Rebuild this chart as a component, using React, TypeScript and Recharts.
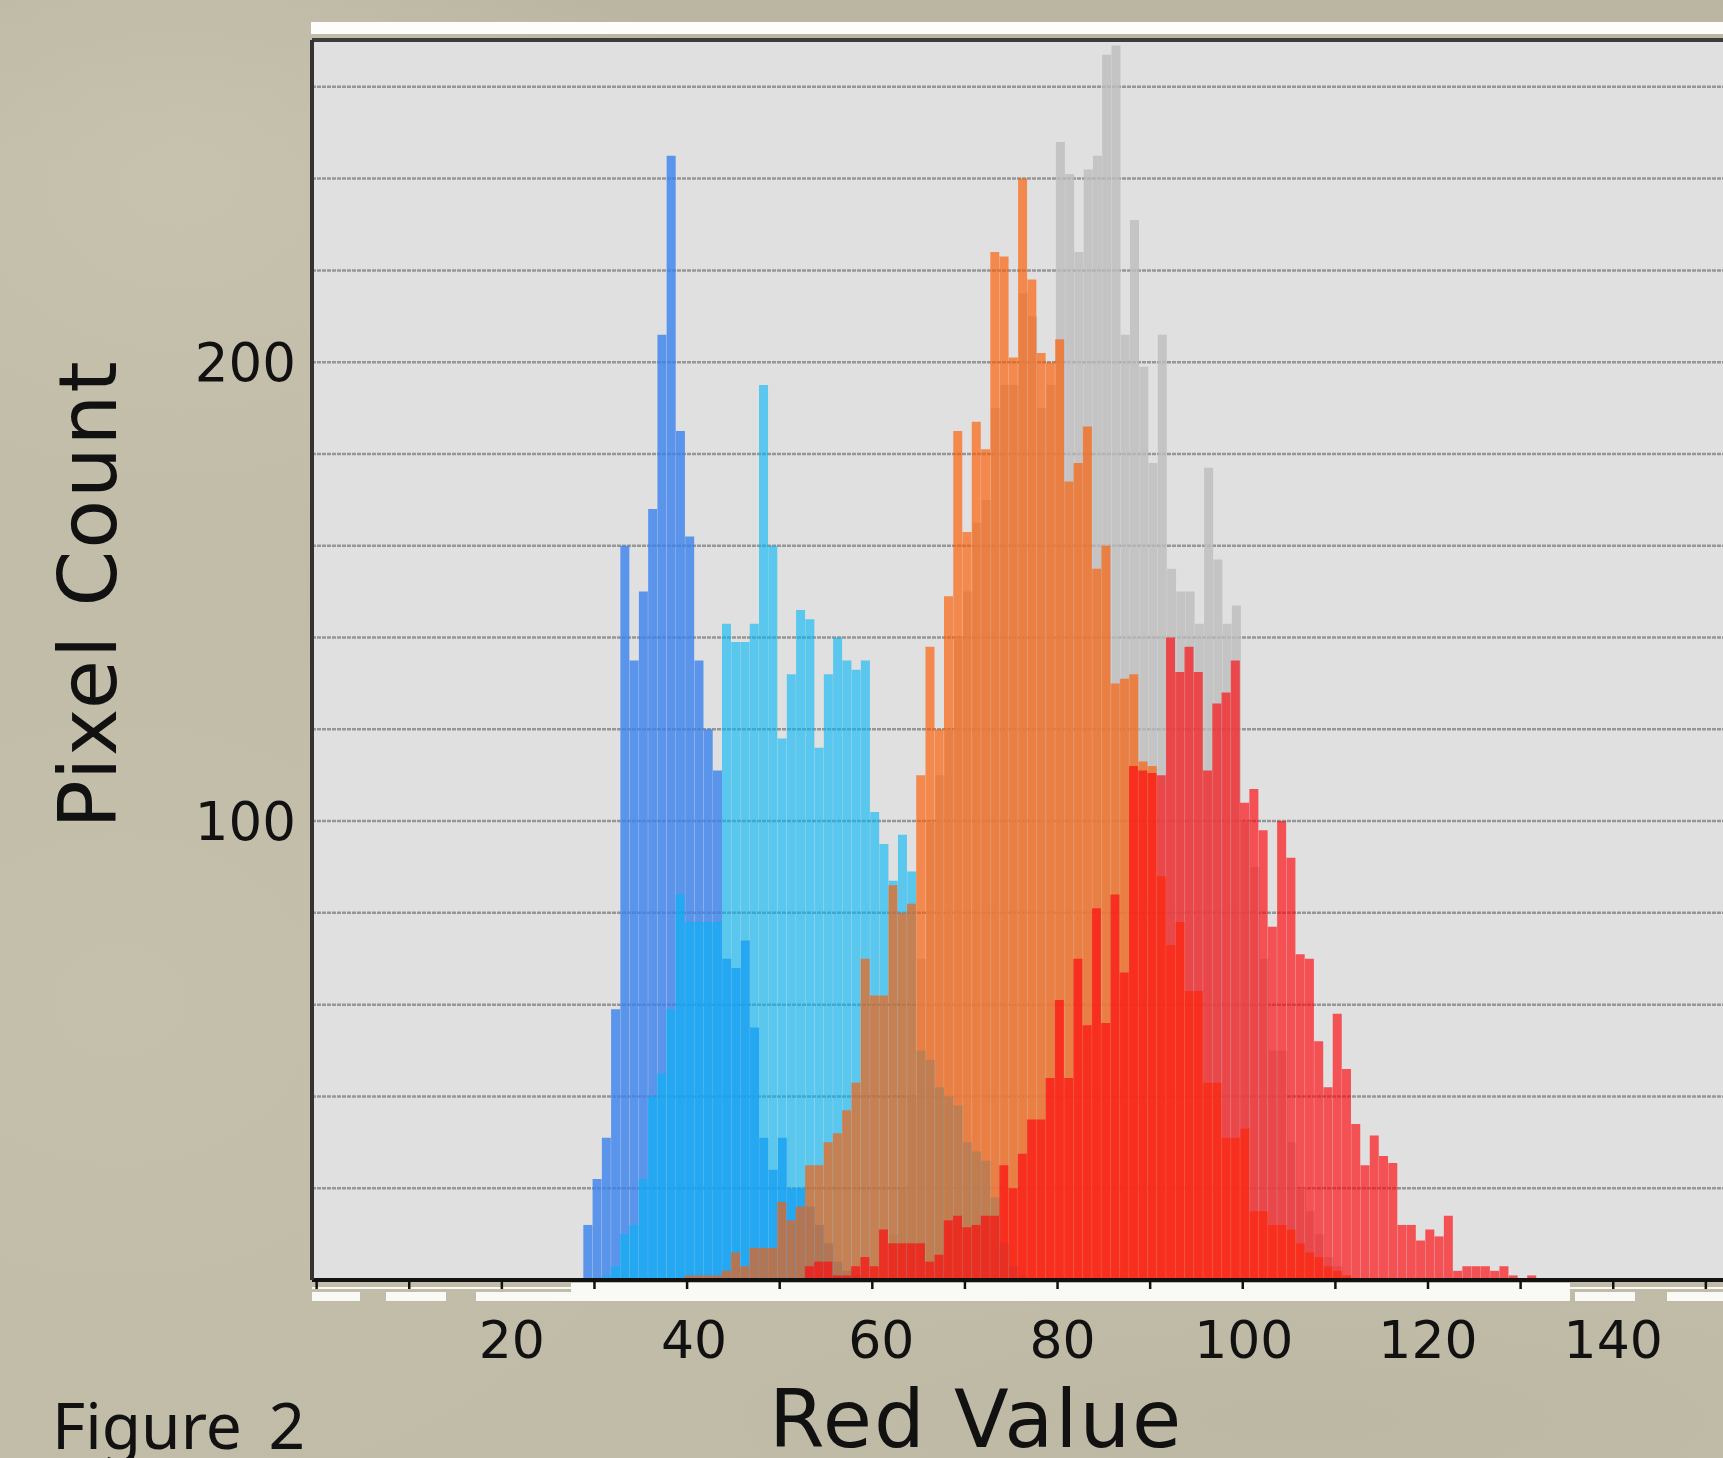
import { BarChart, Bar, XAxis, YAxis, CartesianGrid, ReferenceLine, Label } from "recharts"

const BLUE = "#3a82ed"
const SKY = "#00b5f7"
const ORANGE = "#ff5b00"
const RED = "#ff050a"
const GREY = "#bdbdbd"
const TAN = "#c1bca8"
const PANEL = "#e0e0e0"
const INK = "#111111"

const binCount = 153
const yMax = 270.2

const xTicks = [0, 10, 20, 30, 40, 50, 60, 70, 80, 90, 100, 110, 120, 130, 140, 150]
const xLabels = [20, 40, 60, 80, 100, 120, 140]
const yTicks = [0, 20, 40, 60, 80, 100, 120, 140, 160, 180, 200, 220, 240, 260]
const yLabels = [100, 200]

// first bin of each series, then one count per bin
const blueStart = 29
const blueCounts = [
  12, 22, 31, 59, 160, 135, 150, 168, 206, 245, 185, 162, 135, 120, 111, 70, 68, 74, 55, 31, 24, 31, 20, 20, 16, 12, 8,
  4, 2, 1,
]
const skyStart = 31
const skyCounts = [
  1, 3, 10, 12, 22, 40, 45, 59, 84, 78, 78, 78, 78, 143, 139, 139, 143, 195, 160, 118, 132, 146, 144, 116, 132, 140,
  135, 133, 135, 102, 95, 87, 97, 89, 50, 48, 42, 40, 38, 30, 28, 26, 18, 8, 3, 1,
]
const greyStart = 62
const greyCounts = [
  10, 20, 40, 70, 100, 110, 120, 140, 150, 165, 170, 190, 195, 195, 215, 210, 190, 195, 248, 241, 224, 242, 245, 267,
  269, 206, 231, 199, 178, 206, 155, 150, 150, 143, 177, 157, 143, 147, 100, 90, 70, 50, 50, 30, 20, 15, 10, 5, 3,
]
const orangeStart = 40
const orangeCounts = [
  1, 1, 1, 1, 2, 6, 3, 7, 7, 7, 17, 13, 16, 25, 25, 30, 32, 37, 43, 70, 62, 62, 86, 80, 82, 110, 138, 120, 149, 185,
  163, 187, 181, 224, 223, 201, 240, 218, 202, 200, 205, 174, 178, 186, 155, 160, 130, 131, 132, 113, 112, 88, 73, 78,
  63, 63, 43, 43, 31, 31, 33, 15, 15, 12, 12, 11, 8, 6, 5, 3, 2, 1,
]
const redStart = 53
const redCounts = [
  3, 4, 4, 1, 1, 3, 5, 3, 11, 8, 8, 8, 8, 4, 5.5, 13, 14, 11.5, 12, 14, 14, 25, 20, 27.5, 35, 35, 44, 61, 44, 70, 55.5,
  81, 56, 84, 67, 112, 111, 110.5, 110, 140, 132.5, 138, 132.5, 111, 125.6, 128, 135, 104, 107, 98, 77, 100, 92, 71,
  70, 52, 42, 58, 46, 34, 25, 31.5, 27, 25.5, 12, 12, 8.6, 11, 9.5, 14, 2, 3, 3, 3, 2, 3, 1, 0, 1,
]

const at = (counts: number[], start: number, bin: number) => counts[bin - start] ?? 0

const data = Array.from({ length: binCount }, (_, bin) => ({
  bin,
  grey: at(greyCounts, greyStart, bin),
  blue: at(blueCounts, blueStart, bin),
  sky: at(skyCounts, skyStart, bin),
  orange: at(orangeCounts, orangeStart, bin),
  red: at(redCounts, redStart, bin),
}))

const font = "DejaVu Sans, Verdana, sans-serif"
const barShift = 3 // bars sit a little right of their tick marks in the original
const axisY = 1280
const labelNudge: Record<number, number> = { 20: 10, 40: 7, 60: 9, 80: 5, 100: 1 }

function XTick({ x, payload }: { x: number; payload: { value: number } }) {
  const v = payload.value
  const tx = x - barShift
  return (
    <g>
      <line x1={tx} x2={tx} y1={axisY} y2={axisY + 9} stroke={INK} strokeWidth={2.5} />
      {xLabels.includes(v) && (
        <text x={tx + (labelNudge[v] ?? 0)} y={1358} textAnchor="middle" fontFamily={font} fontSize={52} fill={INK}>
          {v}
        </text>
      )}
    </g>
  )
}

// bits of the screenshot's white band below the axis: [left, top, width, height]
const bottomBand = [
  [312, 1292, 48, 9],
  [386, 1292, 60, 9],
  [476, 1292, 95, 9],
  [312, 1287, 259, 2],
  [571, 1283, 999, 18],
  [1570, 1287, 153, 2],
  [1575, 1292, 60, 9],
  [1667, 1292, 56, 9],
]

export default function App() {
  return (
    <div
      style={{
        position: "absolute",
        left: 0,
        top: 0,
        width: 1723,
        height: 1458,
        overflow: "hidden",
        background: `radial-gradient(520px 420px at 180px 180px, #c7c2ae, transparent),
          radial-gradient(600px 500px at 120px 1000px, #c5c0ac, transparent),
          radial-gradient(700px 160px at 1300px 1420px, #bdb8a4, transparent),
          linear-gradient(#bab5a1, ${TAN} 12%)`,
      }}
    >
      <div style={{ position: "absolute", left: 311, top: 22, width: 1412, height: 12, background: "#fdfdfb" }} />
      <div style={{ position: "absolute", left: 312, top: 40, width: 1411, height: 1240, background: PANEL }} />
      {bottomBand.map(([left, top, width, height]) => (
        <div key={`${left}-${top}`} style={{ position: "absolute", left, top, width, height, background: "#f9f9f6" }} />
      ))}

      <div style={{ position: "absolute", left: 0, top: 0 }}>
        <BarChart
          width={1732}
          height={1458}
          data={data}
          margin={{ top: 40, right: 0, bottom: 78, left: 232 }}
          barCategoryGap={0}
          barGap="-100%"
        >
          <CartesianGrid
            horizontal
            vertical={false}
            stroke="#969696"
            strokeWidth={2.5}
            strokeDasharray="4 1"
            horizontalValues={yTicks}
          />
          <XAxis
            dataKey="bin"
            type="category"
            height={100}
            padding={{ left: barShift, right: 0 }}
            ticks={xTicks}
            interval={0}
            tickLine={false}
            tick={XTick as any}
            axisLine={{ stroke: "#111", strokeWidth: 4 }}
          >
            <Label
              content={() => (
                <text x={976} y={1447} textAnchor="middle" fontFamily={font} fontSize={80} letterSpacing={1.9} fill={INK}>
                  Red Value
                </text>
              )}
            />
          </XAxis>
          <YAxis
            type="number"
            width={80}
            domain={[0, yMax]}
            ticks={yTicks}
            interval={0}
            tickLine={false}
            tickMargin={10}
            tick={{ fontFamily: font, fontSize: 53, fill: INK }}
            axisLine={{ stroke: "#333", strokeWidth: 4 }}
            tickFormatter={(v: number) => (yLabels.includes(v) ? String(v) : "")}
          >
            <Label
              content={() => (
                <text
                  x={116}
                  y={594}
                  textAnchor="middle"
                  transform="rotate(-90 116 594)"
                  fontFamily={font}
                  fontSize={80}
                  letterSpacing={1.9}
                  fill={INK}
                >
                  Pixel Count
                </text>
              )}
            />
          </YAxis>
          <ReferenceLine y={yMax} stroke="#3c3c3c" strokeWidth={4} ifOverflow="visible" />
          <Bar dataKey="grey" fill={GREY} fillOpacity={0.8} isAnimationActive={false} />
          <Bar dataKey="blue" fill={BLUE} fillOpacity={0.8} isAnimationActive={false} />
          <Bar dataKey="sky" fill={SKY} fillOpacity={0.6} isAnimationActive={false} />
          <Bar dataKey="orange" fill={ORANGE} fillOpacity={0.65} isAnimationActive={false} />
          <Bar dataKey="red" fill={RED} fillOpacity={0.65} isAnimationActive={false} />
        </BarChart>
      </div>

      <div
        style={{
          position: "absolute",
          left: 52,
          top: 1382,
          fontFamily: "Noto Sans, sans-serif",
          fontSize: 64,
          lineHeight: "86px",
          color: INK,
          wordSpacing: 10,
          whiteSpace: "nowrap",
        }}
      >
        Figure 2
      </div>
    </div>
  )
}
